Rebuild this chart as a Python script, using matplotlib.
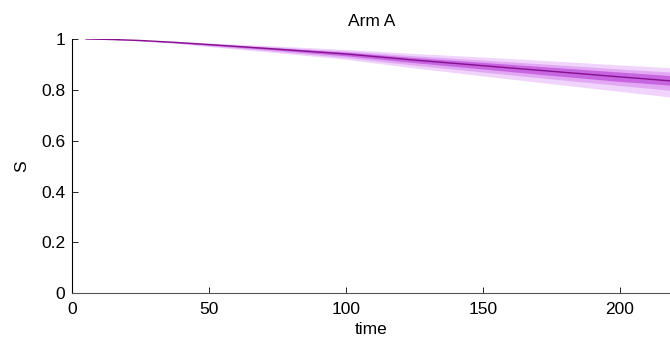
import matplotlib
matplotlib.use("Agg")
import matplotlib.pyplot as plt
import numpy as np

plt.rcParams['font.family'] = ['Liberation Sans', 'DejaVu Sans']

# survival curve with nested credible bands
t = [5, 15, 25, 37, 50, 75, 100, 125, 150, 175, 200, 220]
s_med = [1.0, 0.998, 0.994, 0.987, 0.978, 0.960, 0.941, 0.917, 0.895, 0.873, 0.851, 0.834]
outer_hi = [1.0, 0.999, 0.996, 0.991, 0.985, 0.972, 0.959, 0.943, 0.929, 0.914, 0.898, 0.886]
outer_lo = [1.0, 0.997, 0.992, 0.983, 0.970, 0.946, 0.920, 0.886, 0.855, 0.824, 0.794, 0.770]
mid_hi = [1.0, 0.9985, 0.995, 0.989, 0.982, 0.968, 0.953, 0.934, 0.917, 0.900, 0.882, 0.869]
mid_lo = [1.0, 0.9975, 0.993, 0.985, 0.973, 0.951, 0.927, 0.897, 0.870, 0.843, 0.817, 0.797]
in_hi = [1.0, 0.998, 0.9945, 0.988, 0.980, 0.964, 0.948, 0.927, 0.908, 0.889, 0.870, 0.855]
in_lo = [1.0, 0.998, 0.9935, 0.986, 0.976, 0.956, 0.934, 0.907, 0.882, 0.857, 0.833, 0.817]

fig = plt.figure(figsize=(6.7, 3.45), dpi=100)
ax = fig.add_axes([72.4/670, (345-293.3)/345, 1-72.4/670, (293.3-39)/345])

ax.fill_between(t, outer_lo, outer_hi, color='#f0d4fc', lw=0)
ax.fill_between(t, mid_lo, mid_hi, color='#e2a8f4', lw=0)
ax.fill_between(t, in_lo, in_hi, color='#c866e2', lw=0)
ax.plot(t, s_med, color='#86108f', lw=1)

ax.set_xlim(0, 218.3)
ax.set_ylim(0, 1)
ax.set_xticks([0, 50, 100, 150, 200])
ax.set_yticks([0, 0.2, 0.4, 0.6, 0.8, 1])
ax.set_yticklabels(['0', '0.2', '0.4', '0.6', '0.8', '1'])
ax.tick_params(direction='in', length=4, width=0.6, labelsize=12.5)
ax.tick_params(axis='x', pad=6)
ax.tick_params(axis='y', pad=5)
ax.spines['top'].set_visible(False)
ax.spines['right'].set_visible(False)
ax.spines['left'].set_linewidth(0.8)
ax.spines['bottom'].set_linewidth(0.8)
ax.spines['bottom'].set_color('#555555')

ax.set_title('Arm A', fontsize=12.5, pad=9)
ax.set_xlabel('time', fontsize=12.5, labelpad=4)
ax.set_ylabel('S', fontsize=12.5, labelpad=9)

fig.savefig('out.png', dpi=100)
